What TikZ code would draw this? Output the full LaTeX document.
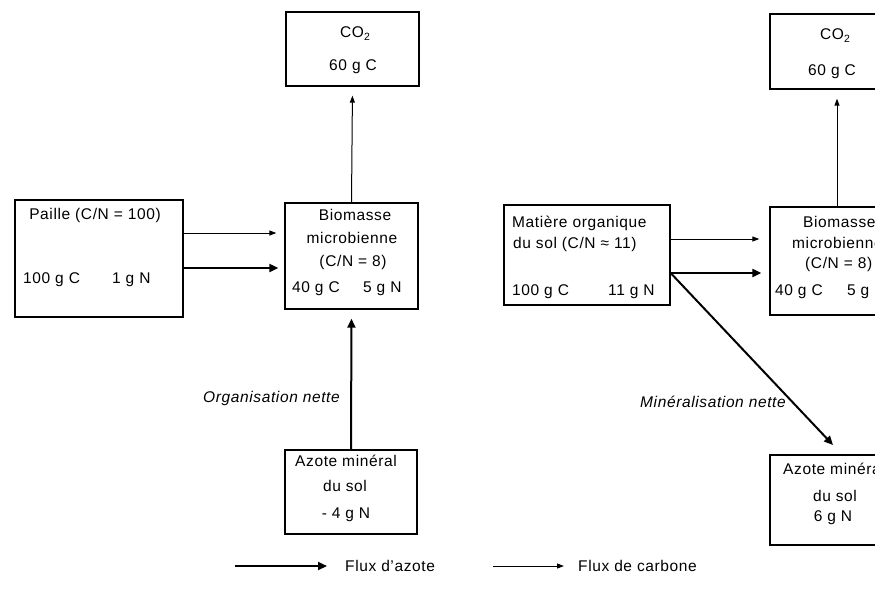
\documentclass[tikz,border=0pt]{standalone}
\usepackage{fontspec}
\setmainfont{Liberation Sans}[LetterSpace=4]
\usetikzlibrary{arrows.meta}
\newcommand{\subtwo}{\raisebox{-3.5pt}{\fontsize{10.5}{10.5}\selectfont 2}}
\begin{document}
\begin{tikzpicture}[x=1pt,y=-1pt,
  box/.style={draw, line width=1.3pt, inner sep=0pt},
  txt/.style={inner sep=0pt, font=\fontsize{15.5}{18}\selectfont},
  lab/.style={inner sep=0pt, font=\fontsize{15.5}{18}\selectfont\itshape},
  cflux/.style={line width=1pt, -{Triangle[length=7pt,width=5pt]}},
  nflux/.style={line width=2pt, -{Triangle[length=9pt,width=8pt]}}]
\useasboundingbox (0,0) rectangle (875,590);
\clip (0,0) rectangle (875,590);
% ---- left half ----
\node[box, minimum width=168pt, minimum height=117pt] (paille) at (99,258.5) {};
\node[box, minimum width=133pt, minimum height=106pt] (bio1) at (351.5,256) {};
\node[box, minimum width=133pt, minimum height=74pt] (co2a) at (352.5,49) {};
\node[box, minimum width=132pt, minimum height=84pt] (az1) at (351,492) {};

\node[txt, anchor=base] (t1) at (95,219) {Paille (C/N = 100)};
\node[txt, anchor=base west] (t2) at (23,283) {100 g C};
\node[txt, anchor=base west] (t3) at (112,283) {1 g N};

\node[txt, anchor=base] (t4) at (355,220) {Biomasse};
\node[txt, anchor=base] (t5) at (352,243) {microbienne};
\node[txt, anchor=base] (t6) at (353,266) {(C/N = 8)};
\node[txt, anchor=base west] (t7) at (292,292) {40 g C};
\node[txt, anchor=base west] (t8) at (363,292) {5 g N};

\node[txt, anchor=base] (t9) at (355,37) {CO\subtwo};
\node[txt, anchor=base] (t10) at (353,70) {60 g C};

\node[txt, anchor=base] (t11) at (346,466) {Azote minéral};
\node[txt, anchor=base] (t12) at (345,491) {du sol};
\node[txt, anchor=base] (t13) at (346,518) {- 4 g N};

\node[lab, anchor=base east] (l1) at (340,402) {Organisation nette};

\draw[cflux, shorten >=8pt] (paille.east |- 0,233) -- (bio1.west |- 0,233);
\draw[nflux, shorten >=6pt] (paille.east |- 0,268) -- (bio1.west |- 0,268);
\draw[cflux, shorten >=9pt] (bio1.north) -- (co2a.south);
\draw[nflux, shorten >=9pt] (az1.north) -- (bio1.south);

% ---- right half ----
\node[box, minimum width=166pt, minimum height=100pt] (mat) at (587,255) {};
\node[box, minimum width=134pt, minimum height=108pt] (bio2) at (837,261) {};
\node[box, minimum width=134pt, minimum height=75pt] (co2b) at (837,51.5) {};
\node[box, minimum width=134pt, minimum height=90pt] (az2) at (837,500) {};

\node[txt, anchor=base west] (r1) at (512,227) {Matière organique};
\node[txt, anchor=base west] (r2) at (513,248) {du sol (C/N ≈ 11)};
\node[txt, anchor=base west] (r3) at (512,295) {100 g C};
\node[txt, anchor=base west] (r4) at (608,295) {11 g N};

\node[txt, anchor=base west] (r5) at (803,227) {Biomasse};
\node[txt, anchor=base west] (r6) at (792,248) {microbienne};
\node[txt, anchor=base west] (r7) at (805,268) {(C/N = 8)};
\node[txt, anchor=base west] (r8) at (775,295) {40 g C};
\node[txt, anchor=base west] (r9) at (847,295) {5 g N};

\node[txt, anchor=base] (r10) at (835,39) {CO\subtwo};
\node[txt, anchor=base] (r11) at (832,75) {60 g C};

\node[txt, anchor=base west] (r12) at (783,474) {Azote minéral};
\node[txt, anchor=base] (r13) at (835,501) {du sol};
\node[txt, anchor=base] (r14) at (833,521) {6 g N};

\node[lab, anchor=base west] (l2) at (640,407) {Minéralisation nette};

\draw[cflux, shorten >=10pt] (mat.east |- 0,239) -- (bio2.west |- 0,239);
\draw[nflux, shorten >=8pt] (mat.east |- 0,273) -- (bio2.west |- 0,273);
\draw[cflux, shorten >=9pt] (bio2.north) -- (co2b.south);
\coordinate (dtip) at (833,445);
\draw[nflux] (mat.east |- 0,273) -- (dtip);

% ---- legend ----
\coordinate (ln0) at (235,566);
\coordinate (ln1) at (327,566);
\coordinate (lc0) at (493,566);
\coordinate (lc1) at (564,566);
\draw[nflux] (ln0) -- (ln1);
\draw[cflux] (lc0) -- (lc1);
\node[txt, anchor=base west] (g1) at (345,571) {Flux d'azote};
\node[txt, anchor=base west] (g2) at (578,571) {Flux de carbone};
\end{tikzpicture}
\end{document}
